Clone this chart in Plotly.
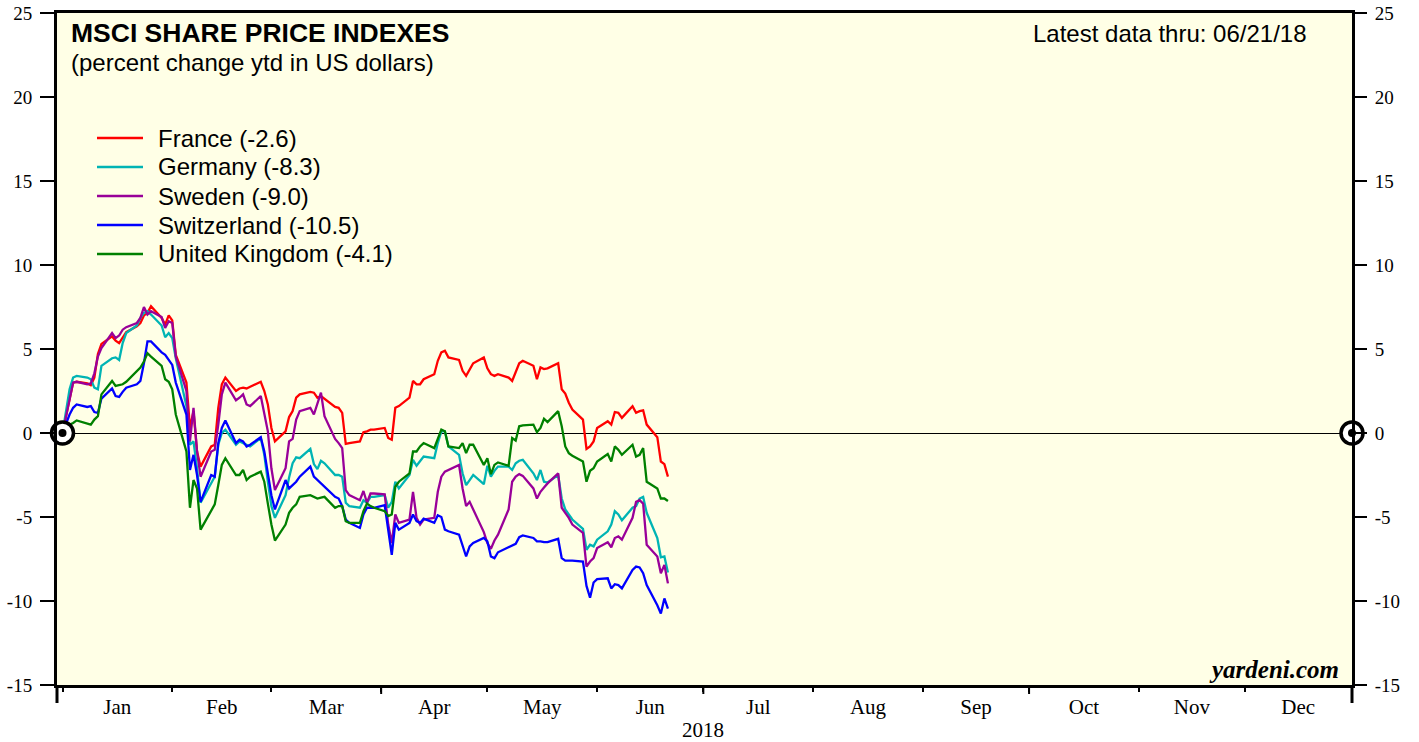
import plotly.graph_objects as go
import pandas as pd

# ---------------- data (percent change ytd in US dollars) ----------------
dates = pd.bdate_range("2018-01-01", "2018-06-21")  # weekdays, 124 points

france = [
    0, 1.0, 2.2, 3.0, 3.05,  2.95, 2.85, 3.3, 4.7, 5.3,
    5.75, 5.5, 5.35, 5.7, 6.0,  6.35, 6.55, 7.0, 7.15, 7.55,
    6.85, 6.45, 7.0, 6.7, 4.65,  3.0, 0.3, 1.3, -1.1, -2.0,
    -0.8, -0.7, 1.5, 2.9, 3.3,  2.5, 2.65, 2.7, 2.65, 2.75,
    3.05, 2.5, 1.7, 0.3, -0.5,  0.1, 0.95, 1.3, 2.1, 2.3,
    2.45, 2.4, 2.1, 2.2, 2.05,  1.55, 1.5, 1.2, -0.65, -0.6,
    -0.5, 0.05, 0.1, 0.2, 0.2,  0.3, -0.3, -0.4, 1.5, 1.6,
    2.1, 3.1, 2.9, 2.9, 3.2,  3.5, 4.3, 4.8, 4.9, 4.5,
    4.35, 3.7, 3.4, 3.8, 4.15,  4.5, 3.85, 3.5, 3.4, 3.5,
    3.3, 3.1, 3.6, 4.15, 4.3,  4.0, 3.2, 3.9, 3.8, 3.85,
    4.15, 2.6, 2.35, 1.8, 1.4,  0.8, -0.95, -0.8, -0.5, 0.3,
    0.7, 0.5, 1.25, 1.2, 0.9,  1.6, 1.2, 1.3, 1.35, 0.5,
    -0.25, -1.7, -1.85, -2.6,
]

germany = [
    0, 1.4, 2.6, 3.3, 3.4,  3.3, 3.2, 2.7, 2.6, 4.0,
    4.45, 4.5, 4.35, 5.35, 5.95,  6.4, 6.85, 7.15, 7.25, 7.05,
    6.4, 5.7, 5.95, 5.65, 4.45,  1.6, -0.7, -0.5, -2.1, -4.15,
    -3.0, -2.6, -0.7, 0.0, 0.2,  -0.7, -0.5, -0.6, -0.7, -0.8,
    -0.3, -1.3, -2.9, -4.35, -5.05,  -3.7, -2.65, -1.8, -1.45, -1.5,
    -0.95, -1.85, -2.15, -1.65, -1.8,  -2.5, -2.5, -2.6, -4.15, -4.35,
    -4.45, -4.0, -4.15, -3.8, -3.8,  -3.7, -4.45, -4.1, -2.9, -3.3,
    -2.5, -1.6, -1.95, -1.65, -1.4,  -1.5, -0.6, 0.1, 0.1, -0.8,
    -1.3, -2.4, -3.1, -2.8, -2.5,  -3.05, -1.95, -2.6, -2.25, -2.0,
    -2.0, -2.2, -1.8, -1.65, -1.6,  -2.4, -2.8, -2.2, -2.9, -2.95,
    -2.5, -3.9, -4.55, -4.85, -5.15,  -5.7, -6.95, -6.65, -6.75, -6.35,
    -5.85, -5.45, -4.65, -4.85, -5.2,  -4.45, -4.35, -3.9, -3.8, -4.75,
    -6.25, -7.4, -7.35, -8.3,
]

sweden = [
    0, 1.0, 2.2, 3.0, 3.05,  2.9, 2.95, 3.55, 4.55, 5.05,
    5.95, 5.65, 5.8, 6.15, 6.3,  6.55, 6.85, 7.5, 7.05, 7.25,
    6.9, 6.25, 6.65, 6.55, 4.55,  2.5, -0.5, 1.5, -1.1, -2.6,
    -1.1, -1.0, 0.5, 2.3, 3.0,  1.95, 2.1, 2.3, 1.7, 1.6,
    2.2, 1.1, 0.1, -2.1, -3.4,  -2.1, -0.5, -0.35, 0.8, 1.3,
    1.5, 1.1, 1.7, 2.4, 1.0,  -0.35, -0.6, -0.9, -3.4, -3.7,
    -4.0, -3.45, -4.15, -3.6, -3.6,  -3.65, -5.45, -6.55, -4.85, -5.35,
    -5.15, -3.5, -5.05, -5.45, -5.15,  -5.05, -3.5, -2.6, -2.3, -2.2,
    -1.9, -3.3, -4.35, -4.1, -4.55,  -5.9, -6.55, -6.9, -6.4, -6.05,
    -4.55, -2.9, -2.6, -2.45, -2.55,  -3.3, -3.9, -3.5, -3.25, -3.0,
    -2.4, -4.45, -4.75, -5.05, -5.45,  -5.95, -7.95, -7.65, -7.45, -6.85,
    -6.5, -6.8, -6.25, -6.15, -6.35,  -5.05, -4.1, -4.0, -4.2, -6.65,
    -7.35, -8.35, -7.85, -8.95,
]

switzerland = [
    0, 0.6, 1.1, 1.5, 1.7,  1.55, 1.6, 1.25, 1.2, 2.05,
    2.65, 2.2, 2.15, 2.45, 2.7,  2.9, 3.1, 4.15, 5.45, 5.45,
    4.8, 4.65, 4.35, 4.05, 3.0,  1.1, -2.2, -1.3, -2.5, -4.1,
    -2.5, -2.6, -0.6, 0.3, 0.75,  -0.6, -0.4, -0.5, -0.8, -0.7,
    -0.25, -1.1, -2.4, -3.7, -4.55,  -2.8, -3.3, -3.1, -2.9, -2.6,
    -2.0, -2.6, -2.8, -3.05, -3.25,  -3.8, -3.9, -4.35, -5.15, -5.35,
    -5.65, -4.85, -4.45, -4.45, -4.45,  -4.3, -5.65, -7.25, -5.35, -5.75,
    -5.35, -4.85, -5.25, -5.35, -5.1,  -5.35, -4.9, -5.0, -5.75, -5.85,
    -6.05, -6.7, -7.35, -6.75, -6.55,  -6.25, -6.45, -7.35, -7.45, -7.1,
    -6.8, -6.7, -6.6, -6.2, -6.1,  -6.25, -6.45, -6.45, -6.5, -6.5,
    -6.3, -7.45, -7.6, -7.6, -7.6,  -7.65, -9.1, -9.8, -8.9, -8.7,
    -8.65, -9.25, -9.0, -9.05, -9.25,  -8.15, -7.95, -8.0, -8.35, -9.05,
    -10.25, -10.75, -9.85, -10.45,
]

united_kingdom = [
    0, 0.2, 0.5, 0.6, 0.75,  0.55, 0.5, 0.8, 1.0, 2.3,
    3.1, 2.8, 2.85, 2.9, 3.05,  3.65, 3.9, 4.25, 4.75, 4.55,
    4.0, 3.2, 3.05, 2.6, 1.1,  -1.1, -4.45, -2.8, -3.3, -5.75,
    -4.65, -4.25, -3.1, -1.9, -1.5,  -2.5, -2.5, -2.2, -2.8, -2.6,
    -2.3, -2.9, -4.2, -5.45, -6.4,  -5.45, -4.75, -4.45, -4.25, -3.8,
    -3.7, -3.8, -3.9, -3.85, -3.8,  -4.45, -4.35, -4.35, -5.25, -5.35,
    -5.35, -4.65, -4.2, -4.35, -4.45,  -4.65, -4.95, -4.85, -3.2, -2.9,
    -2.4, -1.1, -1.1, -0.8, -0.6,  -0.9, -0.3, 0.2, 0.1, -0.8,
    -0.9, -0.6, -1.2, -0.7, -0.7,  -1.9, -1.5, -2.45, -1.9, -1.75,
    -1.95, -0.3, -0.45, 0.4, 0.45,  0.5, 0.05, 0.3, 0.85, 0.65,
    1.3, 0.4, -0.8, -1.2, -1.35,  -1.7, -2.9, -2.25, -2.1, -1.7,
    -1.25, -1.7, -0.8, -1.0, -1.3,  -0.7, -1.4, -1.3, -0.9, -2.9,
    -3.3, -3.9, -3.9, -4.05,
]

series_names = ["France (-2.6)", "Germany (-8.3)", "Sweden (-9.0)",
                "Switzerland (-10.5)", "United Kingdom (-4.1)"]
series_values = [france, germany, sweden, switzerland, united_kingdom]
series_colors = ["#ff0000", "#00b4b4", "#990099", "#0000ff", "#008000"]

y_ticks = [-15, -10, -5, 0, 5, 10, 15, 20, 25]
y_tick_text = ["-15", "-10", "-5", "0", "5", "10", "15", "20", "25"]
x_start = "2017-12-30 10:45"
x_end = "2018-12-31 05:00"
quarter_ticks = ["2018-04-01", "2018-07-01", "2018-10-01"]

SANS = "Liberation Sans, Arial, sans-serif"
SERIF = "Liberation Serif, Times New Roman, serif"

# figure fills the whole window (page body margin removed in post_script)
W, H = 1419, 742
ML, MR, MT, MB = 57, 67, 13, 57
PW, PH = W - ML - MR, H - MT - MB


def px(x):
    """window pixel x -> paper coordinate"""
    return (x - ML) / PW


def py(y):
    """window pixel y -> paper coordinate"""
    return (H - MB - y) / PH


fig = go.Figure()

for name, vals, col in zip(series_names, series_values, series_colors):
    fig.add_trace(go.Scatter(
        x=dates, y=vals, mode="lines", name=name,
        line=dict(color=col, width=2.3), hoverinfo="skip", showlegend=False))

# base-point markers at the zero line (left at first date, right at axis end)
for xv in [dates[0], x_end]:
    fig.add_trace(go.Scatter(
        x=[xv], y=[0], mode="markers", showlegend=False, cliponaxis=False,
        marker=dict(size=22, color="white", line=dict(color="black", width=3.5)),
        hoverinfo="skip"))
    fig.add_trace(go.Scatter(
        x=[xv], y=[0], mode="markers", showlegend=False, cliponaxis=False,
        marker=dict(size=8, color="black"), hoverinfo="skip"))

# invisible trace to activate the right-hand axis
fig.add_trace(go.Scatter(x=[dates[0]], y=[0], yaxis="y2", mode="markers",
                         marker=dict(opacity=0), showlegend=False,
                         hoverinfo="skip"))

fig.update_layout(
    width=W, height=H,
    margin=dict(l=ML, r=MR, t=MT, b=MB, autoexpand=False),
    paper_bgcolor="white",
    plot_bgcolor="#ffffe6",
    showlegend=False,
    xaxis=dict(
        type="date", range=[x_start, x_end], automargin=False,
        showgrid=False, zeroline=False,
        showline=True, linecolor="black", linewidth=3, mirror=True,
        ticks="outside", ticklen=4, tickwidth=2, tickcolor="black",
        dtick="M1", tick0="2018-01-01", tickformat="%b",
        ticklabelmode="period", ticklabelstandoff=-3,
        tickfont=dict(family=SERIF, size=21, color="black"),
    ),
    yaxis=dict(
        range=[-15, 25], tickvals=y_ticks, ticktext=y_tick_text,
        automargin=False, showgrid=False, ticklabeloverflow="allow",
        zeroline=True, zerolinecolor="black", zerolinewidth=1,
        showline=True, linecolor="black", linewidth=3, mirror=True,
        ticks="outside", ticklen=14, tickwidth=1.5, tickcolor="black",
        ticklabelstandoff=4,
        tickfont=dict(family=SERIF, size=19, color="black"),
    ),
    yaxis2=dict(
        range=[-15, 25], tickvals=y_ticks, ticktext=y_tick_text,
        overlaying="y", side="right", automargin=False,
        ticklabeloverflow="allow",
        showgrid=False, zeroline=False, showline=False,
        ticks="outside", ticklen=14, tickwidth=1.5, tickcolor="black",
        ticklabelstandoff=4,
        tickfont=dict(family=SERIF, size=19, color="black"),
    ),
)

# long ticks at the axis ends and quarter ticks
shapes = [
    dict(type="line", xref="paper", yref="paper", x0=0, x1=0, y0=0, y1=py(703),
         line=dict(color="black", width=3)),
    dict(type="line", xref="paper", yref="paper", x0=1, x1=1, y0=0, y1=py(703),
         line=dict(color="black", width=3)),
]
for q in quarter_ticks:
    shapes.append(dict(type="line", xref="x", yref="paper", x0=q, x1=q,
                       y0=0, y1=py(694), line=dict(color="black", width=2)))

annotations = [
    dict(text="<b>MSCI SHARE PRICE INDEXES</b>", xref="paper", yref="paper",
         x=px(69), y=py(33), xanchor="left", yanchor="middle", showarrow=False,
         font=dict(family=SANS, size=26.5, color="black")),
    dict(text="(percent change ytd in US dollars)", xref="paper", yref="paper",
         x=px(69), y=py(63), xanchor="left", yanchor="middle", showarrow=False,
         font=dict(family=SANS, size=24, color="black")),
    dict(text="Latest data thru: 06/21/18", xref="paper", yref="paper",
         x=px(1309), y=py(33), xanchor="right", yanchor="middle", showarrow=False,
         font=dict(family=SANS, size=24, color="black")),
    dict(text="<b><i>yardeni.com</i></b>", xref="paper", yref="paper",
         x=px(1341), y=py(669), xanchor="right", yanchor="middle", showarrow=False,
         font=dict(family=SERIF, size=25, color="black")),
    dict(text="2018", xref="x", yref="paper", x="2018-07-01", y=py(730),
         xanchor="center", yanchor="middle", showarrow=False,
         font=dict(family=SERIF, size=21, color="black")),
]

# legend (line samples + labels)
legend_rows = [138, 167, 196, 225, 254]
for name, col, ry in zip(series_names, series_colors, legend_rows):
    shapes.append(dict(type="line", xref="paper", yref="paper",
                       x0=px(97), x1=px(143), y0=py(ry), y1=py(ry),
                       line=dict(color=col, width=2.5)))
    annotations.append(dict(text=name, xref="paper", yref="paper",
                            x=px(156), y=py(ry), xanchor="left",
                            yanchor="middle", showarrow=False,
                            font=dict(family=SANS, size=24, color="black")))

fig.update_layout(shapes=shapes, annotations=annotations)

fig.write_html("out.html",
               config={"displayModeBar": False},
               post_script="document.body.style.margin='0px';"
                           "document.body.style.overflow='hidden';")
